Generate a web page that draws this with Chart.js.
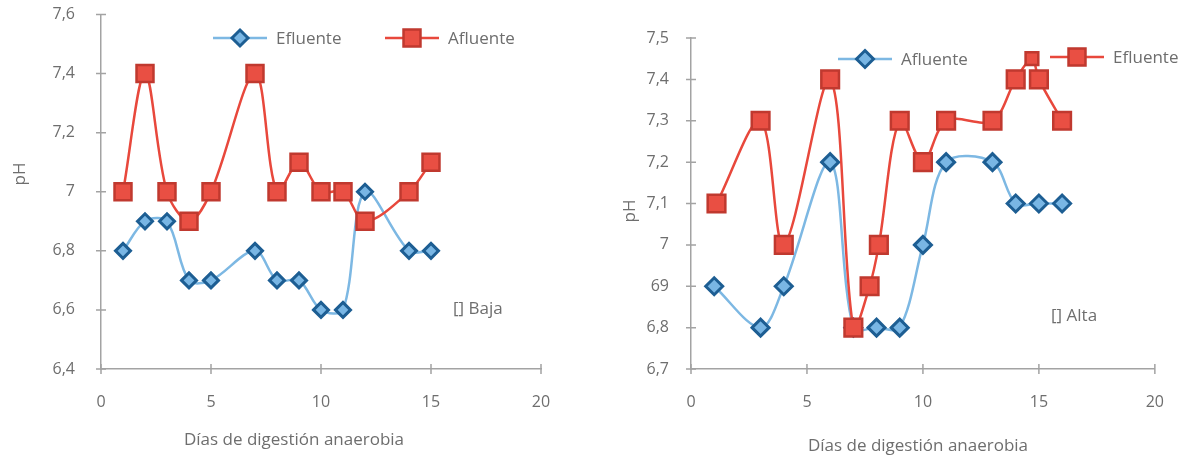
<!DOCTYPE html>
<html>
<head>
<meta charset="utf-8">
<script src="https://cdn.jsdelivr.net/npm/chart.js@4.4.1/dist/chart.umd.min.js"></script>
<style>
  html, body { margin: 0; padding: 0; background: #fff; }
  #wrap { position: relative; width: 1188px; height: 460px; }
  .panel { position: absolute; top: 0; width: 594px; height: 460px; }
  #panelBaja { left: 0; }
  #panelAlta { left: 594px; }
</style>
</head>
<body>
<div id="wrap">
  <div class="panel" id="panelBaja"><canvas id="chartBaja" width="594" height="460"></canvas></div>
  <div class="panel" id="panelAlta"><canvas id="chartAlta" width="594" height="460"></canvas></div>
</div>
<script>
// ---- Carga baja ----
const bajaDias = [1, 2, 3, 4, 5, 7, 8, 9, 10, 11, 12, 14, 15];
const bajaEfluente = [6.8, 6.9, 6.9, 6.7, 6.7, 6.8, 6.7, 6.7, 6.6, 6.6, 7.0, 6.8, 6.8];
const bajaAfluente = [7.0, 7.4, 7.0, 6.9, 7.0, 7.4, 7.0, 7.1, 7.0, 7.0, 6.9, 7.0, 7.1];
const bajaTicksY = [6.4, 6.6, 6.8, 7.0, 7.2, 7.4, 7.6];
const bajaEtiquetasY = ['6,4', '6,6', '6,8', '7', '7,2', '7,4', '7,6'];

// ---- Carga alta ----
const altaDiasAfluente = [1, 3, 4, 6, 7, 8, 9, 10, 11, 13, 14, 15, 16];
const altaAfluente = [6.9, 6.8, 6.9, 7.2, 6.8, 6.8, 6.8, 7.0, 7.2, 7.2, 7.1, 7.1, 7.1];
const altaDiasEfluente = [1.1, 3, 4, 6, 7, 7.7, 8.1, 9, 10, 11, 13, 14, 14.7, 15, 16];
const altaEfluente = [7.1, 7.3, 7.0, 7.4, 6.8, 6.9, 7.0, 7.3, 7.2, 7.3, 7.3, 7.4, 7.45, 7.4, 7.3];
const altaTicksY = [6.7, 6.8, 6.9, 7.0, 7.1, 7.2, 7.3, 7.4, 7.5];
const altaEtiquetasY = ['6,7', '6,8', '69', '7', '7,1', '7,2', '7,3', '7,4', '7,5'];

// ---- Eje X común ----
const diasTicksX = [0, 5, 10, 15, 20];
const diasEtiquetasX = ['0', '5', '10', '15', '20'];

const FONT = '"Open Sans", "Noto Sans", sans-serif';
const TEXT = '#6e6e6e';
const AXIS = '#a3a3a3';
const BLUE_LINE = '#7db8e3';
const BLUE_FILL = '#79b6e4';
const BLUE_EDGE = '#1d5e93';
const RED_LINE = '#e8483c';
const RED_FILL = '#e94f43';
const RED_EDGE = '#c0392f';

Chart.defaults.font.family = FONT;
Chart.defaults.color = TEXT;

function pares(xs, ys) { return xs.map((x, i) => ({ x: x, y: ys[i] })); }

function serieAzul(label, xs, ys, radio) {
  return {
    label: label, data: pares(xs, ys), order: 2,
    borderColor: BLUE_LINE, borderWidth: 2.5, tension: 0.33,
    pointStyle: 'rectRot', pointRadius: radio, pointHoverRadius: radio,
    pointBackgroundColor: BLUE_FILL, pointBorderColor: BLUE_EDGE, pointBorderWidth: 3
  };
}
function serieRoja(label, xs, ys, radio) {
  return {
    label: label, data: pares(xs, ys), order: 1,
    borderColor: RED_LINE, borderWidth: 2.5, tension: 0.33,
    pointStyle: 'rect', pointRadius: radio, pointHoverRadius: radio,
    pointBackgroundColor: RED_FILL, pointBorderColor: RED_EDGE, pointBorderWidth: 2.5
  };
}

// Tick marks crossing both sides of each axis line
const marcasCruzadas = {
  id: 'marcasCruzadas',
  beforeDatasetsDraw(chart) {
    const ctx = chart.ctx, sx = chart.scales.x, sy = chart.scales.y;
    ctx.save();
    ctx.strokeStyle = AXIS; ctx.lineWidth = 1.5;
    ctx.beginPath();
    sx.ticks.forEach((t, i) => {
      const p = sx.getPixelForTick(i);
      ctx.moveTo(p, sx.top - 5); ctx.lineTo(p, sx.top + 5);
    });
    sy.ticks.forEach((t, i) => {
      const p = sy.getPixelForTick(i);
      ctx.moveTo(sy.right - 5, p); ctx.lineTo(sy.right + 5, p);
    });
    ctx.stroke();
    ctx.restore();
  }
};

function marcador(ctx, estilo, x, y, r, relleno, borde, ancho) {
  ctx.save();
  ctx.fillStyle = relleno; ctx.strokeStyle = borde; ctx.lineWidth = ancho;
  ctx.beginPath();
  if (estilo === 'rectRot') {
    ctx.moveTo(x, y - r); ctx.lineTo(x + r, y); ctx.lineTo(x, y + r); ctx.lineTo(x - r, y);
  } else {
    const s = r * Math.SQRT1_2;
    ctx.rect(x - s, y - s, 2 * s, 2 * s);
  }
  ctx.closePath(); ctx.fill(); ctx.stroke();
  ctx.restore();
}

// Legend entries, axis titles and the load label, drawn from per-chart layout options
const rotulos = {
  id: 'rotulos',
  afterDraw(chart, args, o) {
    const ctx = chart.ctx;
    ctx.save();
    ctx.fillStyle = TEXT;
    ctx.font = '17px ' + FONT;
    ctx.textBaseline = 'middle';
    // legend
    o.leyenda.forEach(item => {
      const ds = chart.data.datasets[item.ds];
      ctx.save();
      ctx.strokeStyle = ds.borderColor; ctx.lineWidth = 2.5;
      ctx.beginPath(); ctx.moveTo(item.x, item.y); ctx.lineTo(item.x + 54, item.y); ctx.stroke();
      ctx.restore();
      marcador(ctx, ds.pointStyle, item.x + 27, item.y, item.r, ds.pointBackgroundColor, ds.pointBorderColor, ds.pointBorderWidth);
      ctx.fillStyle = TEXT;
      ctx.textAlign = 'left';
      ctx.fillText(ds.label, item.x + 63, item.y + 1);
    });
    // x axis title
    ctx.textAlign = 'center';
    ctx.fillText('Días de digestión anaerobia', o.tituloX.x, o.tituloX.y);
    // y axis title
    ctx.save();
    ctx.translate(o.tituloY.x, o.tituloY.y);
    ctx.rotate(-Math.PI / 2);
    ctx.fillText('pH', 0, 0);
    ctx.restore();
    // load label
    ctx.textAlign = 'left';
    ctx.fillText(o.nota.texto, o.nota.x, o.nota.y);
    ctx.restore();
  }
};

function escalas(ticksY, etiquetasY, anchoY, padY) {
  return {
    x: {
      type: 'linear', min: 0, max: 20,
      afterBuildTicks: s => { s.ticks = diasTicksX.map(v => ({ value: v })); },
      afterFit: s => { s.height = 91; },
      grid: { display: false, drawTicks: false, tickLength: 0 },
      border: { display: true, color: AXIS, width: 1.5 },
      ticks: { padding: 24, color: TEXT, font: { size: 16 },
               maxRotation: 0, autoSkip: false,
               callback: (v, i) => diasEtiquetasX[i] }
    },
    y: {
      type: 'linear', min: ticksY[0], max: ticksY[ticksY.length - 1],
      afterBuildTicks: s => { s.ticks = ticksY.map(v => ({ value: v })); },
      // keep the label gap from pushing the plot area down
      afterFit: s => { s.width = anchoY; s.paddingTop = 10; s.paddingBottom = 10; },
      grid: { display: false, drawTicks: false, tickLength: 0 },
      border: { display: true, color: AXIS, width: 1.5 },
      ticks: { padding: padY, color: TEXT, font: { size: 16 }, autoSkip: false,
               callback: (v, i) => etiquetasY[i] }
    }
  };
}

new Chart(document.getElementById('chartBaja'), {
  type: 'line',
  data: {
    datasets: [
      serieAzul('Efluente', bajaDias, bajaEfluente, 7.5),
      serieRoja('Afluente', bajaDias, bajaAfluente, 12)
    ]
  },
  options: {
    responsive: false, animation: false,
    layout: { padding: { top: 13, right: 53, left: 0, bottom: 0 } },
    scales: escalas(bajaTicksY, bajaEtiquetasY, 101, 26),
    plugins: {
      legend: { display: false }, tooltip: { enabled: false },
      rotulos: {
        leyenda: [ { ds: 0, x: 213, y: 38, r: 8 }, { ds: 1, x: 385, y: 38, r: 12 } ],
        tituloX: { x: 294, y: 440 },
        tituloY: { x: 20, y: 174 },
        nota: { texto: '[] Baja', x: 453, y: 309 }
      }
    }
  },
  plugins: [marcasCruzadas, rotulos]
});

const puntoMenor = 12;   // the narrow peak sample between days 14 and 15 uses a smaller marker
const altaRoja = serieRoja('Efluente', altaDiasEfluente, altaEfluente, 12.5);
altaRoja.pointRadius = c => (c.dataIndex === puntoMenor ? 9 : 12.5);

new Chart(document.getElementById('chartAlta'), {
  type: 'line',
  data: {
    datasets: [
      serieAzul('Afluente', altaDiasAfluente, altaAfluente, 8.5),
      altaRoja
    ]
  },
  options: {
    responsive: false, animation: false,
    layout: { padding: { top: 38, right: 33, left: 0, bottom: 0 } },
    scales: escalas(altaTicksY, altaEtiquetasY, 97, 22),
    plugins: {
      legend: { display: false }, tooltip: { enabled: false },
      rotulos: {
        leyenda: [ { ds: 0, x: 244, y: 59, r: 8.5 }, { ds: 1, x: 456, y: 57, r: 12 } ],
        tituloX: { x: 324, y: 446 },
        tituloY: { x: 36, y: 211 },
        nota: { texto: '[] Alta', x: 457, y: 316 }
      }
    }
  },
  plugins: [marcasCruzadas, rotulos]
});
</script>
</body>
</html>
